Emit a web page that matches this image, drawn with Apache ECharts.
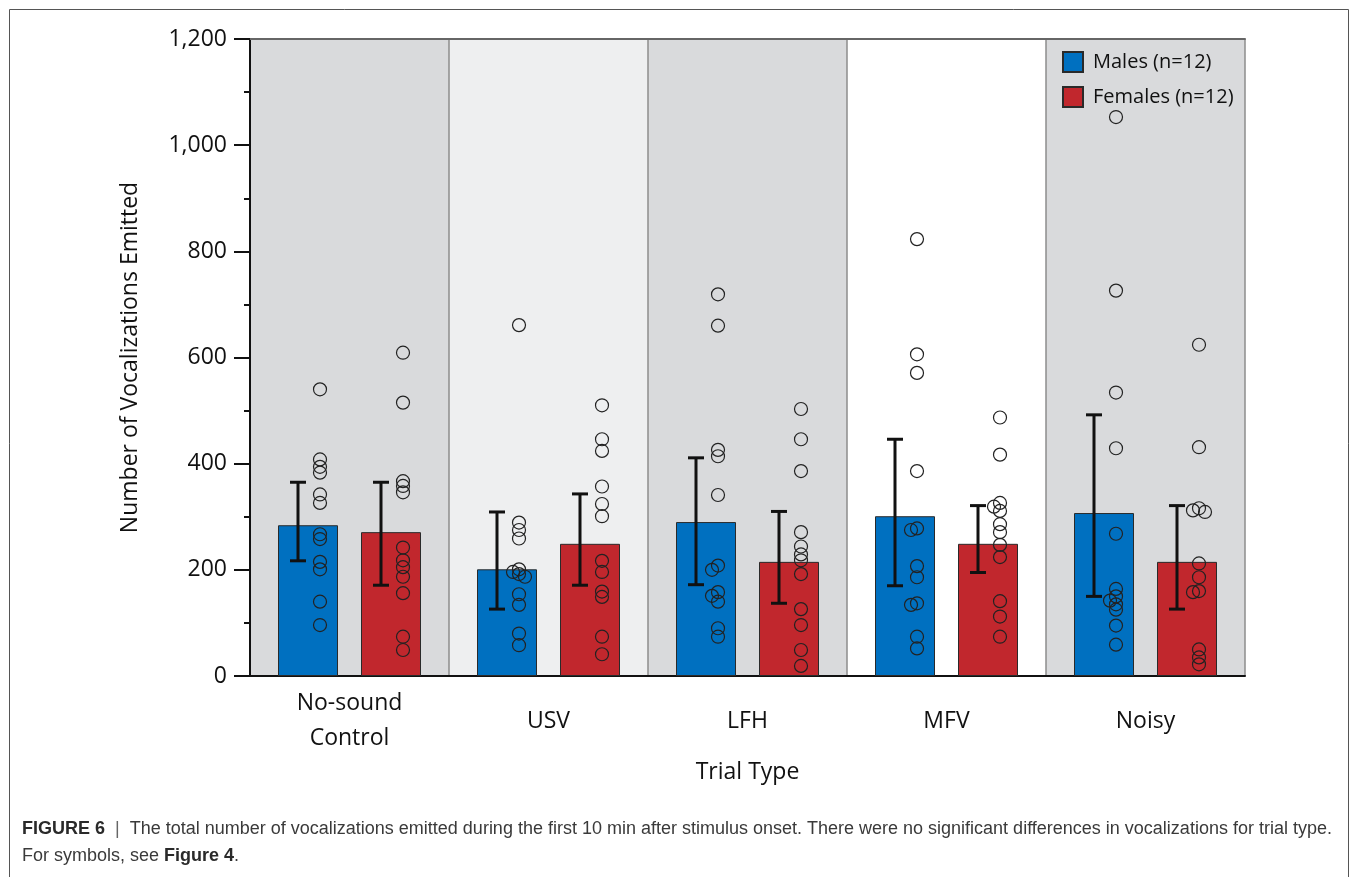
<!DOCTYPE html>
<html>
<head>
<meta charset="utf-8">
<title>Figure 6</title>
<script src="https://cdn.jsdelivr.net/npm/echarts@6/dist/echarts.min.js"></script>
<style>
  html, body { margin: 0; padding: 0; background: #fff; }
  #chart { width: 1355px; height: 877px; }
</style>
</head>
<body>
<div id="chart"></div>
<script>
// trial types
var categories = ['No-sound\nControl', 'USV', 'LFH', 'MFV', 'Noisy']
var yTicks = [0, 200, 400, 600, 800, 1000, 1200]

// bar heights and error bar ends
var maleMean = [284, 201, 290, 301, 307]
var maleLow = [217, 126, 172, 170, 150]
var maleHigh = [365, 309, 411, 446, 492]
var femaleMean = [271, 249, 215, 249, 215]
var femaleLow = [171, 171, 137, 195, 126]
var femaleHigh = [365, 343, 310, 321, 321]

// single animals, one list per trial type
var maleDots = [
  [540, 408, 394, 383, 342, 326, 267, 258, 215, 201, 140, 96],
  [661, 289, 275, 259, 201, 196, 192, 187, 154, 134, 80, 58],
  [719, 660, 426, 414, 341, 208, 200, 158, 151, 140, 90, 74],
  [823, 606, 571, 386, 278, 275, 207, 186, 137, 134, 74, 52],
  [1053, 726, 534, 429, 268, 164, 150, 142, 135, 125, 95, 59]
]
var femaleDots = [
  [609, 515, 367, 358, 346, 242, 218, 205, 187, 156, 74, 49],
  [510, 446, 424, 357, 324, 301, 217, 196, 159, 149, 74, 41],
  [503, 446, 386, 271, 244, 229, 218, 192, 126, 96, 49, 19],
  [487, 417, 326, 319, 311, 286, 271, 247, 224, 141, 112, 74],
  [624, 431, 316, 312, 309, 212, 186, 160, 158, 50, 35, 22]
]

var FONT = 'Open Sans'
var BAR_W = 60
var BAR_GAP = 23
var SHIFT = (BAR_W + BAR_GAP) / 2

// spread overlapping circles a little sideways (simple beeswarm)
function swarm(groups) {
  var out = []
  groups.forEach(function (vals, i) {
    var placed = []
    vals.slice().sort(function (a, b) { return b - a }).forEach(function (v) {
      var best = 0
      var bestD = -1
      ;[0, -6, 6].forEach(function (dx) {
        var d = Infinity
        placed.forEach(function (p) {
          var dy = (p[0] - v) * 0.53
          d = Math.min(d, Math.sqrt((p[1] - dx) * (p[1] - dx) + dy * dy))
        })
        if (d > bestD + 3) { bestD = d; best = dx }
      })
      placed.push([v, best])
      out.push([i, v, best])
    })
  })
  return out
}

function errData(low, high) {
  return low.map(function (l, i) { return [i, l, high[i]] })
}

function errSeries(name, data, shift) {
  return {
    name: name,
    type: 'custom',
    z: 3,
    data: data,
    encode: { x: 0, y: [1, 2] },
    renderItem: function (params, api) {
      var lo = api.coord([api.value(0), api.value(1)])
      var hi = api.coord([api.value(0), api.value(2)])
      var x = lo[0] + shift - 10
      var style = { stroke: '#111', lineWidth: 3 }
      return {
        type: 'group',
        children: [
          { type: 'line', shape: { x1: x, y1: lo[1], x2: x, y2: hi[1] }, style: style },
          { type: 'line', shape: { x1: x - 8, y1: lo[1], x2: x + 8, y2: lo[1] }, style: style },
          { type: 'line', shape: { x1: x - 8, y1: hi[1], x2: x + 8, y2: hi[1] }, style: style }
        ]
      }
    }
  }
}

function dotSeries(name, data, shift) {
  return {
    name: name,
    type: 'custom',
    z: 4,
    data: data,
    encode: { x: 0, y: 1 },
    renderItem: function (params, api) {
      var c = api.coord([api.value(0), api.value(1)])
      return {
        type: 'circle',
        shape: { cx: c[0] + shift + 12 + api.value(2), cy: c[1], r: 6.5 },
        style: { fill: 'none', stroke: '#222', lineWidth: 1.2 }
      }
    }
  }
}

var myChart = echarts.init(document.getElementById('chart'))
myChart.setOption({
  animation: false,
  backgroundColor: '#fff',
  grid: { left: 250, right: 110, top: 39, bottom: 201 },
  legend: {
    orient: 'vertical',
    left: 1057,
    top: 46,
    itemWidth: 20,
    itemHeight: 20,
    itemGap: 13,
    icon: 'rect',
    textStyle: { fontFamily: FONT, fontSize: 20, color: '#111', padding: [0, 0, 0, 5] },
    data: ['Males (n=12)', 'Females (n=12)']
  },
  xAxis: [
    {
      type: 'category',
      data: categories,
      name: 'Trial Type',
      nameLocation: 'middle',
      nameGap: 96,
      nameTextStyle: { fontFamily: FONT, fontSize: 23, color: '#111', verticalAlign: 'middle' },
      axisLine: { lineStyle: { color: '#111', width: 2 } },
      axisTick: { length: 12, lineStyle: { color: '#111', width: 2 } },
      axisLabel: {
        interval: 0,
        fontFamily: FONT,
        fontSize: 23,
        lineHeight: 35,
        color: '#111',
        verticalAlign: 'middle',
        margin: 45
      },
      splitLine: { show: true, lineStyle: { color: '#8c8c8c', width: 1.5 } },
      splitArea: {
        show: true,
        areaStyle: { color: ['#d9dadc', '#eeeff0', '#d9dadc', '#ffffff', '#d9dadc'] }
      }
    },
    {
      // top border of the plot
      type: 'category',
      position: 'top',
      data: categories,
      axisLine: { lineStyle: { color: '#666', width: 2 } },
      axisTick: { show: false },
      axisLabel: { show: false }
    }
  ],
  yAxis: {
    type: 'value',
    min: yTicks[0],
    max: yTicks[yTicks.length - 1],
    interval: 200,
    name: 'Number of Vocalizations Emitted',
    nameLocation: 'middle',
    nameGap: 120,
    nameTextStyle: { fontFamily: FONT, fontSize: 23, color: '#111', verticalAlign: 'middle' },
    axisLine: { show: true, lineStyle: { color: '#111', width: 2 } },
    axisTick: { show: true, length: 16, lineStyle: { color: '#111', width: 2 } },
    minorTick: { show: true, splitNumber: 2, length: 6, lineStyle: { color: '#111', width: 2 } },
    splitLine: { show: false },
    axisLabel: {
      fontFamily: FONT,
      fontSize: 23,
      color: '#111',
      margin: 23,
      formatter: function (v) { return v.toLocaleString('en-US') }
    }
  },
  series: [
    {
      name: 'Males (n=12)',
      type: 'bar',
      data: maleMean,
      barWidth: BAR_W,
      barGap: (BAR_GAP / BAR_W * 100) + '%',
      z: 2,
      itemStyle: { color: '#0070c0', borderColor: '#2a2a2a', borderWidth: 1 }
    },
    {
      name: 'Females (n=12)',
      type: 'bar',
      data: femaleMean,
      barWidth: BAR_W,
      z: 2,
      itemStyle: { color: '#c1272d', borderColor: '#2a2a2a', borderWidth: 1 }
    },
    errSeries('maleErr', errData(maleLow, maleHigh), -SHIFT),
    errSeries('femaleErr', errData(femaleLow, femaleHigh), SHIFT),
    dotSeries('maleDots', swarm(maleDots), -SHIFT),
    dotSeries('femaleDots', swarm(femaleDots), SHIFT)
  ],
  graphic: [
    {
      type: 'rect',
      silent: true,
      shape: { x: 9.5, y: 9.5, width: 1339, height: 900 },
      style: { fill: 'none', stroke: '#555', lineWidth: 1 }
    },
    {
      type: 'text',
      left: 22,
      top: 816,
      silent: true,
      style: {
        text: '{b|FIGURE 6}  {s||}  The total number of vocalizations emitted during the first 10 min after stimulus onset. There were no significant differences in vocalizations for trial type.\nFor symbols, see {b|Figure 4}.',
        fontFamily: 'Liberation Sans',
        fontSize: 18,
        lineHeight: 27,
        fill: '#3a3a3a',
        rich: {
          b: { fontWeight: 'bold', fontFamily: 'Liberation Sans', fontSize: 18, fill: '#2a2a2a' },
          s: { fontFamily: 'Liberation Sans', fontSize: 18, fill: '#666' }
        }
      }
    }
  ]
})
window.onresize = function () {
  myChart.resize()
}
</script>
</body>
</html>
